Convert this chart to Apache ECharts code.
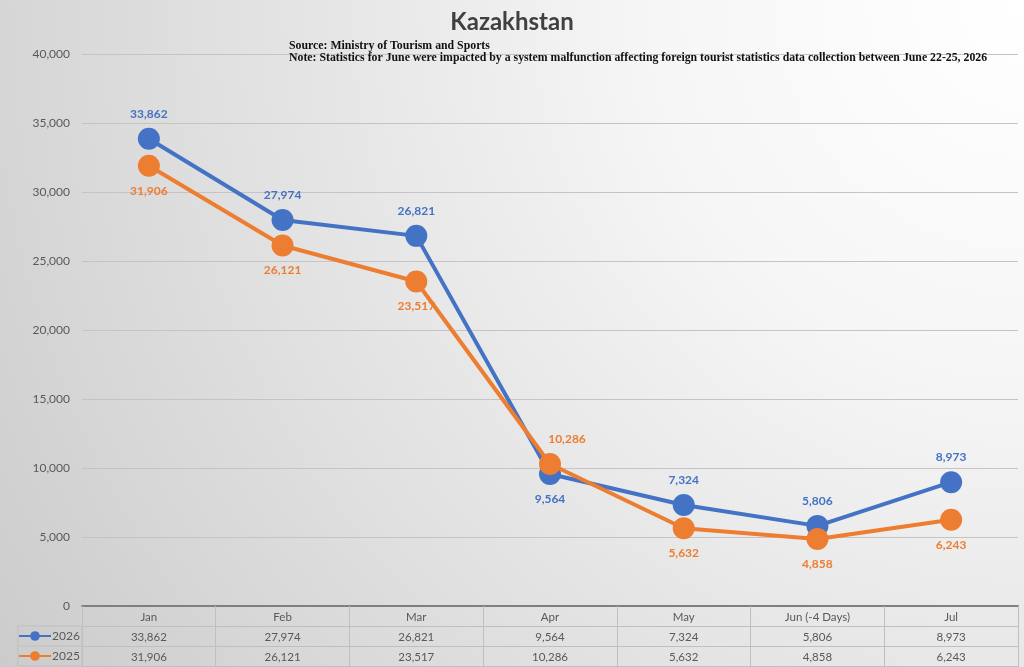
<!DOCTYPE html>
<html>
<head>
<meta charset="utf-8">
<script src="https://cdn.jsdelivr.net/npm/echarts@6/dist/echarts.min.js"></script>
<style>
  html, body { margin: 0; padding: 0; }
  #chart { width: 1024px; height: 667px; }
</style>
</head>
<body>
<div id="chart"></div>
<script>
var months = ['Jan', 'Feb', 'Mar', 'Apr', 'May', 'Jun (-4 Days)', 'Jul'];
var values2026 = [33862, 27974, 26821, 9564, 7324, 5806, 8973];
var values2025 = [31906, 26121, 23517, 10286, 5632, 4858, 6243];
var yTicks = { min: 0, max: 40000, step: 5000 };

var blue = '#4472C4';
var orange = '#ED7D31';
var textGray = '#595959';
var tableLine = '#bfbfbf';

function fmt(v) {
    return Number(v).toLocaleString('en-US');
}

var myChart = echarts.init(document.getElementById('chart'));

// labels: 2026 above, 2025 below, except Apr where they swap
var data2026 = values2026.map(function (v, i) {
    if (months[i] === 'Apr') {
        return { value: v, label: { position: 'bottom' } };
    }
    return v;
});
var data2025 = values2025.map(function (v, i) {
    if (months[i] === 'Apr') {
        return { value: v, label: { position: 'top', offset: [17, 0] } };
    }
    return v;
});

// table rows are drawn as extra category axes under the plot
function tableAxis(labels, offset, showLabel) {
    return {
        type: 'category',
        position: 'bottom',
        offset: offset,
        data: labels,
        axisLine: { show: true, lineStyle: { color: tableLine, width: 1 } },
        axisTick: { show: false },
        axisLabel: { show: showLabel, margin: 5, color: textGray, fontSize: 11.5, fontFamily: 'Lato' },
        splitLine: { show: false }
    };
}

function legendRow(name, top) {
    return {
        orient: 'horizontal',
        left: 18,
        top: top,
        padding: 0,
        itemWidth: 32,
        itemHeight: 12,
        itemGap: 0,
        data: [name],
        textStyle: { color: textGray, fontSize: 12, fontFamily: 'Lato', padding: [0, 0, 0, -4] }
    };
}

var option = {
    backgroundColor: {
        type: 'radial', x: 1, y: 0, r: 1.85,
        colorStops: [
            { offset: 0, color: '#ffffff' },
            { offset: 0.3, color: '#f6f6f6' },
            { offset: 1, color: '#cbcbcb' }
        ]
    },
    animation: false,
    title: [
        {
            text: 'Kazakhstan',
            left: 'center',
            top: 5,
            textStyle: { fontFamily: 'Lato', fontWeight: 'bold', fontSize: 24, color: '#404040' }
        },
        {
            text: 'Source: Ministry of Tourism and Sports\nNote: Statistics for June were impacted by a system malfunction affecting foreign tourist statistics data collection between June 22-25, 2026',
            left: 289,
            top: 40,
            padding: 0,
            textStyle: { fontFamily: 'Liberation Serif', fontWeight: 'bold', fontSize: 11.8, lineHeight: 12, color: '#111' }
        }
    ],
    legend: [legendRow('2026', 630), legendRow('2025', 650)],
    grid: { left: 82, right: 6, top: 54, bottom: 61 },
    xAxis: [
        {
            type: 'category',
            data: months,
            axisLine: { lineStyle: { color: '#7f7f7f', width: 2 } },
            axisTick: { show: true, length: 61, lineStyle: { color: tableLine } },
            axisLabel: { margin: 5, color: textGray, fontSize: 11.5, fontFamily: 'Lato', interval: 0 },
            splitLine: { show: false }
        },
        tableAxis(values2026.map(fmt), 20, true),
        tableAxis(values2025.map(fmt), 40, true),
        tableAxis(months, 60, false)
    ],
    yAxis: {
        type: 'value',
        min: yTicks.min,
        max: yTicks.max,
        interval: yTicks.step,
        axisLine: { show: false },
        axisTick: { show: false },
        axisLabel: { formatter: fmt, color: textGray, fontSize: 12, fontFamily: 'Lato', margin: 12 },
        splitLine: { lineStyle: { color: '#c4c4c4', width: 1 } }
    },
    graphic: [
        {
            type: 'rect',
            shape: { x: 18, y: 626, width: 64, height: 40 },
            style: { fill: 'none', stroke: tableLine, lineWidth: 1 },
            silent: true
        },
        {
            type: 'line',
            shape: { x1: 18, y1: 646, x2: 82, y2: 646 },
            style: { stroke: tableLine, lineWidth: 1 },
            silent: true
        }
    ],
    series: [
        {
            name: '2026',
            type: 'line',
            data: data2026,
            symbol: 'circle',
            symbolSize: 22,
            color: blue,
            lineStyle: { width: 4, color: blue },
            itemStyle: { color: blue },
            label: {
                show: true,
                position: 'top',
                distance: 8,
                formatter: function (p) { return fmt(p.value); },
                color: blue,
                fontWeight: 'bold',
                fontSize: 12,
                fontFamily: 'Lato'
            },
            z: 2
        },
        {
            name: '2025',
            type: 'line',
            data: data2025,
            symbol: 'circle',
            symbolSize: 22,
            color: orange,
            lineStyle: { width: 4, color: orange },
            itemStyle: { color: orange },
            label: {
                show: true,
                position: 'bottom',
                distance: 8,
                formatter: function (p) { return fmt(p.value); },
                color: orange,
                fontWeight: 'bold',
                fontSize: 12,
                fontFamily: 'Lato'
            },
            z: 3
        }
    ]
};

myChart.setOption(option);
</script>
</body>
</html>
